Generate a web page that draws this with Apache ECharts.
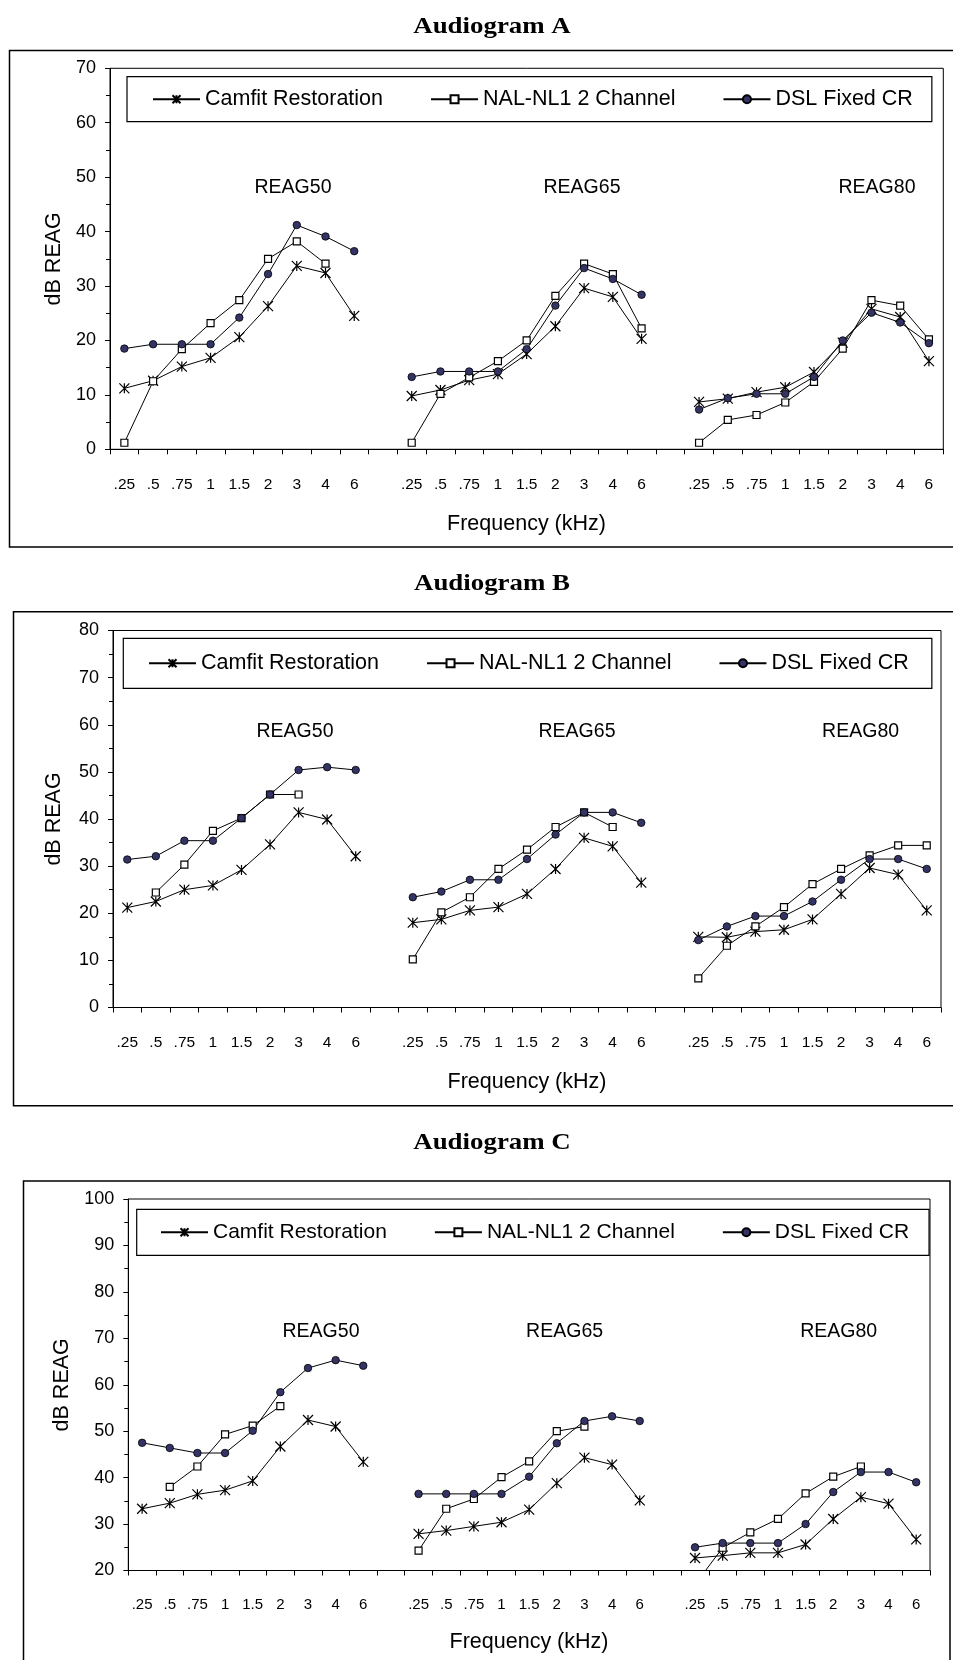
<!DOCTYPE html>
<html>
<head>
<meta charset="utf-8">
<script src="https://cdn.jsdelivr.net/npm/echarts@6/dist/echarts.min.js"></script>
<style>
  html, body { margin: 0; padding: 0; background: #fff; }
  #chart { width: 953px; height: 1660px; }
</style>
</head>
<body>
<div id="chart"></div>
<script>
// frequency labels, one group per REAG level
const freqLabels = ['.25', '.5', '.75', '1', '1.5', '2', '3', '4', '6']
const methodNames = ['Camfit Restoration', 'NAL-NL1 2 Channel', 'DSL Fixed CR']
const levelNames = ['REAG50', 'REAG65', 'REAG80']
const chartTitles = ['Audiogram A', 'Audiogram B', 'Audiogram C']

// Audiogram A
const aCamfit50 = [11.2, 12.6, 15.2, 16.8, 20.6, 26.3, 33.7, 32.4, 24.5]
const aNal50 = [1.2, 12.5, 18.4, 23.2, 27.4, 35.0, 38.2, 34.1, null]
const aDsl50 = [18.5, 19.3, 19.3, 19.3, 24.2, 32.2, 41.2, 39.1, 36.4]
const aCamfit65 = [9.8, 10.9, 12.7, 13.8, 17.5, 22.6, 29.6, 28.0, 20.3]
const aNal65 = [1.2, 10.2, 13.2, 16.2, 20.0, 28.2, 34.1, 32.2, 22.2]
const aDsl65 = [13.3, 14.3, 14.3, 14.3, 18.4, 26.4, 33.3, 31.3, 28.4]
const aCamfit80 = [8.7, 9.3, 10.5, 11.4, 14.2, 19.6, 25.8, 24.3, 16.2]
const aNal80 = [1.2, 5.4, 6.3, 8.6, 12.4, 18.5, 27.4, 26.4, 20.2]
const aDsl80 = [7.3, 9.4, 10.2, 10.2, 13.3, 20.0, 25.1, 23.3, 19.5]

// Audiogram B
const bCamfit50 = [21.2, 22.5, 25.0, 25.9, 29.2, 34.6, 41.4, 39.9, 32.1]
const bNal50 = [null, 24.4, 30.3, 37.5, 40.2, 45.2, 45.2, null, null]
const bDsl50 = [31.4, 32.1, 35.4, 35.4, 40.2, 45.2, 50.4, 51.0, 50.4]
const bCamfit65 = [18.0, 18.7, 20.6, 21.3, 24.1, 29.4, 36.0, 34.2, 26.5]
const bNal65 = [10.2, 20.2, 23.4, 29.4, 33.5, 38.3, 41.4, 38.3, null]
const bDsl65 = [23.4, 24.6, 27.1, 27.1, 31.5, 36.7, 41.4, 41.4, 39.2]
const bCamfit80 = [15.0, 14.9, 16.1, 16.5, 18.7, 24.1, 29.6, 28.2, 20.6]
const bNal80 = [6.2, 13.1, 17.2, 21.3, 26.2, 29.4, 32.3, 34.4, 34.4]
const bDsl80 = [14.3, 17.2, 19.4, 19.4, 22.5, 27.1, 31.5, 31.5, 29.4]

// Audiogram C
const cCamfit50 = [33.3, 34.5, 36.4, 37.3, 39.3, 46.7, 52.4, 51.0, 43.4]
const cNal50 = [null, 38.0, 42.4, 49.3, 51.2, 55.4, null, null, null]
const cDsl50 = [47.5, 46.4, 45.3, 45.3, 50.1, 58.4, 63.6, 65.3, 64.1]
const cCamfit65 = [27.9, 28.6, 29.5, 30.4, 33.1, 38.8, 44.3, 42.8, 35.1]
const cNal65 = [24.3, 33.3, 35.4, 40.1, 43.5, 50.0, 51.0, null, null]
const cDsl65 = [36.5, 36.5, 36.5, 36.5, 40.2, 47.4, 52.2, 53.2, 52.2]
const cCamfit80 = [22.7, 23.2, 23.8, 23.8, 25.6, 31.1, 35.8, 34.4, 26.7]
const cNal80 = [17.0, 24.9, 28.2, 31.1, 36.6, 40.2, 42.4, null, null]
const cDsl80 = [25.0, 25.9, 25.9, 25.9, 30.0, 36.9, 41.2, 41.2, 39.0]

// y axis ranges
const yMin = [0, 0, 20]
const yMax = [70, 80, 100]

// three groups side by side with an empty slot between them
function joinGroups(g50, g65, g80) {
  return [...g50, null, ...g65, null, ...g80]
}
const categories = joinGroups(freqLabels, freqLabels, freqLabels).map(v => (v == null ? '' : v))

const chartData = [
  [joinGroups(aCamfit50, aCamfit65, aCamfit80), joinGroups(aNal50, aNal65, aNal80), joinGroups(aDsl50, aDsl65, aDsl80)],
  [joinGroups(bCamfit50, bCamfit65, bCamfit80), joinGroups(bNal50, bNal65, bNal80), joinGroups(bDsl50, bDsl65, bDsl80)],
  [joinGroups(cCamfit50, cCamfit65, cCamfit80), joinGroups(cNal50, cNal65, cNal80), joinGroups(cDsl50, cDsl65, cDsl80)],
]

const SANS = '"Liberation Sans", Arial, sans-serif'
const SERIF = '"Liberation Serif", "Times New Roman", serif'
const starPath = 'path://M0 0L10 10M10 0L0 10M5 0L5 10'

// layout of each panel
const layout = [
  { grid: { left: 110, top: 68.3, width: 833.3, height: 381 }, box: [9.5, 50.5, 960, 496.5], title: 26.5,
    legend: { left: 127, top: 76.7, padding: [11.5, 19, 11.5, 25] }, legendFont: 21.5,
    levels: [[293, 188], [582, 188], [877, 188]], yName: [54, 258.8], xName: [526.5, 524], xFont: 15.5 },
  { grid: { left: 113, top: 630.5, width: 828, height: 377 }, box: [13.5, 611.7, 960, 494], title: 583.3,
    legend: { left: 123.3, top: 638.3, padding: [14, 23, 14, 24.7] }, legendFont: 21.5,
    levels: [[295, 732], [577, 732], [860.6, 732]], yName: [54, 819], xName: [527, 1081.7], xFont: 15.5 },
  { grid: { left: 128.3, top: 1199, width: 801.7, height: 371.5 }, box: [23.5, 1181, 926.5, 600], title: 1143,
    legend: { left: 136.7, top: 1209.3, padding: [12.5, 20, 12.5, 23.3] }, legendFont: 21,
    levels: [[321, 1332], [564.6, 1332], [838.7, 1332]], yName: [62.5, 1384.8], xName: [529, 1641.7], xFont: 15 },
]

const chart = echarts.init(document.getElementById('chart'))

const grid = [], xAxis = [], yAxis = [], legend = [], series = [], graphic = []

layout.forEach((p, i) => {
  grid.push(Object.assign({ show: true, borderColor: '#000', borderWidth: 1, backgroundColor: '#fff' }, p.grid))
  xAxis.push({
    type: 'category',
    gridIndex: i,
    data: categories,
    boundaryGap: true,
    axisLine: { lineStyle: { color: '#000', width: 1 } },
    axisTick: { show: true, interval: 0, length: 5, lineStyle: { color: '#000' } },
    axisLabel: { interval: 0, color: '#000', fontFamily: SANS, fontSize: p.xFont, margin: 27 },
    splitLine: { show: false },
  })
  yAxis.push({
    type: 'value',
    gridIndex: i,
    min: yMin[i],
    max: yMax[i],
    interval: 10,
    axisLine: { show: true, lineStyle: { color: '#000', width: 1 } },
    axisTick: { show: true, length: 5, lineStyle: { color: '#000' } },
    minorTick: { show: true, splitNumber: 2, length: 4, lineStyle: { color: '#000' } },
    axisLabel: { color: '#000', fontFamily: SANS, fontSize: 18, margin: 14 },
    splitLine: { show: false },
    minorSplitLine: { show: false },
  })
  legend.push(Object.assign({
    data: methodNames,
    orient: 'horizontal',
    itemWidth: 47,
    itemHeight: 10,
    itemGap: 47,
    borderColor: '#000',
    borderWidth: 1.2,
    backgroundColor: '#fff',
    selectedMode: false,
    textStyle: { color: '#000', fontFamily: SANS, fontSize: p.legendFont },
  }, p.legend))

  const [camfit, nal, dsl] = chartData[i]
  const common = {
    type: 'line',
    xAxisIndex: i,
    yAxisIndex: i,
    connectNulls: false,
    showAllSymbol: true,
    animation: false,
    emphasis: { disabled: true },
    lineStyle: { color: '#000', width: 1 },
  }
  series.push(Object.assign({}, common, {
    name: methodNames[0], data: camfit, symbol: starPath, symbolSize: 10,
    itemStyle: { color: '#000', borderColor: '#000', borderWidth: 1.2 },
  }))
  series.push(Object.assign({}, common, {
    name: methodNames[1], data: nal, symbol: 'rect', symbolSize: 7,
    itemStyle: { color: '#fff', borderColor: '#000', borderWidth: 1.2 },
  }))
  series.push(Object.assign({}, common, {
    name: methodNames[2], data: dsl, symbol: 'circle', symbolSize: 7.5,
    itemStyle: { color: '#333366', borderColor: '#000', borderWidth: 0.8 },
  }))

  // outer chart frame and annotation texts
  const b = p.box
  graphic.push({ type: 'rect', shape: { x: b[0], y: b[1], width: b[2], height: b[3] }, style: { fill: 'none', stroke: '#000', lineWidth: 1.5 }, z: -10 })
  graphic.push({ type: 'text', x: 492, y: p.title, scaleX: 1.12, style: { text: chartTitles[i], font: 'bold 24px ' + SERIF, fill: '#000', align: 'center', verticalAlign: 'middle' } })
  levelNames.forEach((name, k) => {
    graphic.push({ type: 'text', x: p.levels[k][0], y: p.levels[k][1], z: 10, style: { text: name, font: '19.5px ' + SANS, fill: '#000', align: 'center', verticalAlign: 'middle' } })
  })
  graphic.push({ type: 'text', x: p.yName[0], y: p.yName[1], rotation: Math.PI / 2, style: { text: 'dB REAG', font: '21.5px ' + SANS, fill: '#000', align: 'center', verticalAlign: 'middle' } })
  graphic.push({ type: 'text', x: p.xName[0], y: p.xName[1], style: { text: 'Frequency (kHz)', font: '21.5px ' + SANS, fill: '#000', align: 'center', verticalAlign: 'middle' } })
})

const options = {
  animation: false,
  backgroundColor: '#fff',
  grid: grid,
  xAxis: xAxis,
  yAxis: yAxis,
  legend: legend,
  series: series,
  graphic: graphic,
}
options && chart.setOption(options)
</script>
</body>
</html>
